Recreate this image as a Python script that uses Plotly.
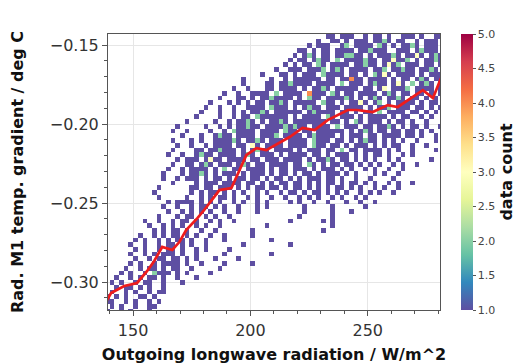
import plotly.graph_objects as go

# ---- 2D histogram counts, rows from top (y=-0.143) downward ----
# each entry: (number of empty leading x-bins, pattern) ; '.' = no data, digit = count
X_FIRST_CENTER = 139.0
X_BIN = 2.0
N_XBINS = 72
Y_FIRST_CENTER = -0.3215
Y_BIN = 0.003

count_rows = [
    (47, "11.111..1.11.1..111.1..11"),
    (45, "1..11.1.111.1121.11..1.111."),
    (43, "1.111..12.1111.21.1.1121.111"),
    (41, "11.1.11.1111.112111..111.12111."),
    (40, "1.121.11.112211.1.11121.1131.121"),
    (39, "1.11.1211.2.1111211.113112.1.1121"),
    (38, "1.1.11.21.1111.11211.1312.111.11.1"),
    (36, "1..111.1112.121.1111.112.11211.1121."),
    (33, "1...11.1.111.21111.11.1.2131.1111.1.111"),
    (29, "1.....1..1.111111.11.11411.1111.1.11.121.11"),
    (29, "1....11.1121111.1111.2.111.1211.131.2.121.1"),
    (27, "1..1...11.1111.1.1121.11111.11.13.1112.1111.1"),
    (25, "1..1..1111.2.1111.4111.21.11.1111.121.11.11.1.1"),
    (24, "1...11.1.1121111.1.211.111121.1.121.1121.11.1.1"),
    (22, "1...1.1.1.11.1121.11111.211.1.1131.12.1.1111.1.11."),
    (21, "1..1..1..1111.2111.1.1211.111.1111.1.112.111.11.1.1"),
    (20, "1...1..1.1.1121.111111.121111.11.1.11.2.1111.11.1.1."),
    (19, "1....1..1.11.2111111.1.1111.21.111.1.1111.1.11..1.1."),
    (17, "1.....1..1.1121.1.1121.1111111.11.1.21.111.1.11.1..1.."),
    (15, "1.....1..1.1.1" + "1211.111121211.1111.2.111.11.1121.1.11.1" + "..1"),
    (14, "1..1....1..1.2" + "1111.1111.211.11.111111.1.121.11.11.11.1" + ".1.."),
    (16, "1...1..1211.1" + "111.1112.1111.121111.1.111.11.1111.11.1" + "..1."),
    (14, "1...1.1..11112" + "1.1121.111.1111.2111.11.1.1211.1.1.1..1" + "...1"),
    (15, "1..1..1.1111.1" + "1.31.1111.1111.211.11.1.111.1.1.11..1" + "..1."),
    (14, "1....11.112111." + "1.1211.1111.1.111.11.2.11.1111.1.1..1" + "....1"),
    (13, "1..1..1211.1111.121.111.1.1111.11.1.111.1.1.11.1..1.1..."),
    (15, "1.111.1311.1111.11.111.1111.1.1121.11.1.1.1..1.1......1"),
    (14, "1..11.121.111.121.11.1111.11.21.1.11.11.1.1.1..1.1..1"),
    (13, "1..1.1111.1.2.11.1111.1.11.111.1.111.1.1..1.1..1..1"),
    (12, "1...1.1121.1.111.1.111.1.11.1.11.1.111.1.1...1.1..1"),
    (12, "1..1.111.1.11.1.11.11.1.11.1.1.111.11.1..1..1....1."),
    (14, "1....1.111.1111.11.1.1.11.11.1.1.11.1.11.1.1..1.1..1"),
    (11, "1......11.11.111.1.1.11.11.1.11.1.1.1.11.1.1..1.1..1"),
    (10, "1.......1.1.11.1.1.1..1.1..1.11.1.11.1.1.1..1.1.1..1"),
    (11, "1.....1..1.1.11.1..1.1..1..1..1.1.1..1.1..1.1"),
    (13, "1.1111.1.1.1..1.1..1.1....1.1..1..1...1..1..1"),
    (12, "1..1..1.11.1.1..1...1.1.......1.....1......1"),
    (13, "1..1.1.1.1..1..1...1.........1.....1...1"),
    (11, "1...1.11..1.1..1..............1......1"),
    (8,  "1..1..1.11.1..1.1..1...........1......1.1"),
    (9,  "1..1.1.1..1.1..1.........1.............1"),
    (10, "1.1.11.1..1..1.......1..............1"),
    (7,  "1..1.1.11.1.1..1..1.....1"),
    (6,  "1.1..1.1.11.1..1...1.........1"),
    (5,  "1..1..1.11.1.1..1.......1.........1"),
    (6,  "1.1..1.11.1..1.1....1"),
    (5,  "1..1.1.111.1..1.....1.........1"),
    (6,  "1..1.11.11.1.1...1....1"),
    (5,  "1.1..1.1111.1..1....1.....1"),
    (4,  "1..1.11.1.11..1.....1"),
    (3,  "1.1..1.2111.1.1....1"),
    (2,  "1..1.1.11.1..1...1"),
    (1,  "1.1..1.11..1...1"),
    (0,  "..1.11.1.1..1"),
    (0,  ".1..1.1..1.11"),
    (0,  "1.1.1..11.1"),
    (0,  "11..1.1..1.1"),
    (0,  ".1.1..1..11"),
    (0,  "1..1.1...1"),
    (0,  ".1..1..1.1"),
]

# ---- binned mean (red line) ----
mean_x = [138.9, 140.6, 146.2, 151.7, 156.0, 159.0, 162.4, 166.7, 169.7, 172.6,
          177.4, 180.3, 186.8, 191.9, 198.3, 202.6, 206.8, 216.7, 222.2, 227.4,
          232.9, 241.5, 245.3, 252.1, 258.5, 262.8, 273.5, 277.8, 282.1]
mean_y = [-0.3114, -0.3070, -0.3025, -0.3006, -0.2930, -0.2867, -0.2778, -0.2797,
          -0.2747, -0.2671, -0.2595, -0.2544, -0.2418, -0.2405, -0.2196, -0.2152,
          -0.2165, -0.2082, -0.2025, -0.2038, -0.1975, -0.1911, -0.1911, -0.1924,
          -0.1880, -0.1892, -0.1785, -0.1835, -0.1677]

cbar_ticks = [1.0, 1.5, 2.0, 2.5, 3.0, 3.5, 4.0, 4.5, 5.0]

# ---- build count matrix ----
rows = []
for lead, pat in count_rows:
    s = ("." * lead + pat).ljust(N_XBINS, ".")[:N_XBINS]
    rows.append([None if c == "." else int(c) for c in s])
z = rows[::-1]  # bottom row first

FONT = "DejaVu Sans"

fig = go.Figure()
fig.add_trace(go.Heatmap(
    z=z, x0=X_FIRST_CENTER, dx=X_BIN, y0=Y_FIRST_CENTER, dy=Y_BIN,
    colorscale="Spectral_r", zmin=1, zmax=5, hoverinfo="skip",
    colorbar=dict(
        x=1.063, xanchor="left", xpad=0, y=1.0, yanchor="top", ypad=0,
        len=1.0, lenmode="fraction", thickness=12, outlinewidth=0,
        tickmode="array", tickvals=cbar_ticks, tickformat=".1f",
        ticks="outside", ticklen=3, tickcolor="#555",
        tickfont=dict(family=FONT, size=11, color="#444"),
        title=dict(text="data count", side="right",
                   font=dict(family=FONT, size=16, color="#111", weight="bold")),
    ),
))
fig.add_trace(go.Scatter(x=mean_x, y=mean_y, mode="lines",
                         line=dict(color="#ee1c1c", width=2.7),
                         hoverinfo="skip", showlegend=False))

axis_common = dict(
    automargin=False,
    ticks="outside", ticklen=5, tickwidth=1, tickcolor="#555",
    showgrid=True, gridcolor="#e6e6e6", gridwidth=1,
    showline=True, linecolor="#555", linewidth=1, mirror=True,
    zeroline=False, tickfont=dict(family=FONT, size=16, color="#333"),
)

fig.update_layout(
    width=528, height=364,
    margin=dict(l=108, r=86, t=34, b=54),
    paper_bgcolor="white", plot_bgcolor="white",
    showlegend=False,
    xaxis=dict(
        range=[139.3, 280.8], tick0=0, dtick=50, ticklabelstandoff=1,
        minor=dict(tickmode="linear", tick0=0, dtick=10, ticks="outside",
                   ticklen=3, tickcolor="#555", showgrid=False),
        title=dict(text="Outgoing longwave radiation / W/m^2", standoff=9,
                   font=dict(family=FONT, size=16, color="#111", weight="bold")),
        **axis_common,
    ),
    yaxis=dict(
        range=[-0.3177, -0.143], tick0=0, dtick=0.05, tickformat=".2f",
        minor=dict(tickmode="linear", tick0=0, dtick=0.01, ticks="outside",
                   ticklen=3, tickcolor="#555", showgrid=False),
        title=dict(text="Rad. M1 temp. gradient / deg C", standoff=22,
                   font=dict(family=FONT, size=16, color="#111", weight="bold")),
        **axis_common,
    ),
)

# remove the browser's default page margin so the figure sits at the window origin
fig.write_html("out.html", config={"displayModeBar": False},
               post_script="document.body.style.margin='0';")
